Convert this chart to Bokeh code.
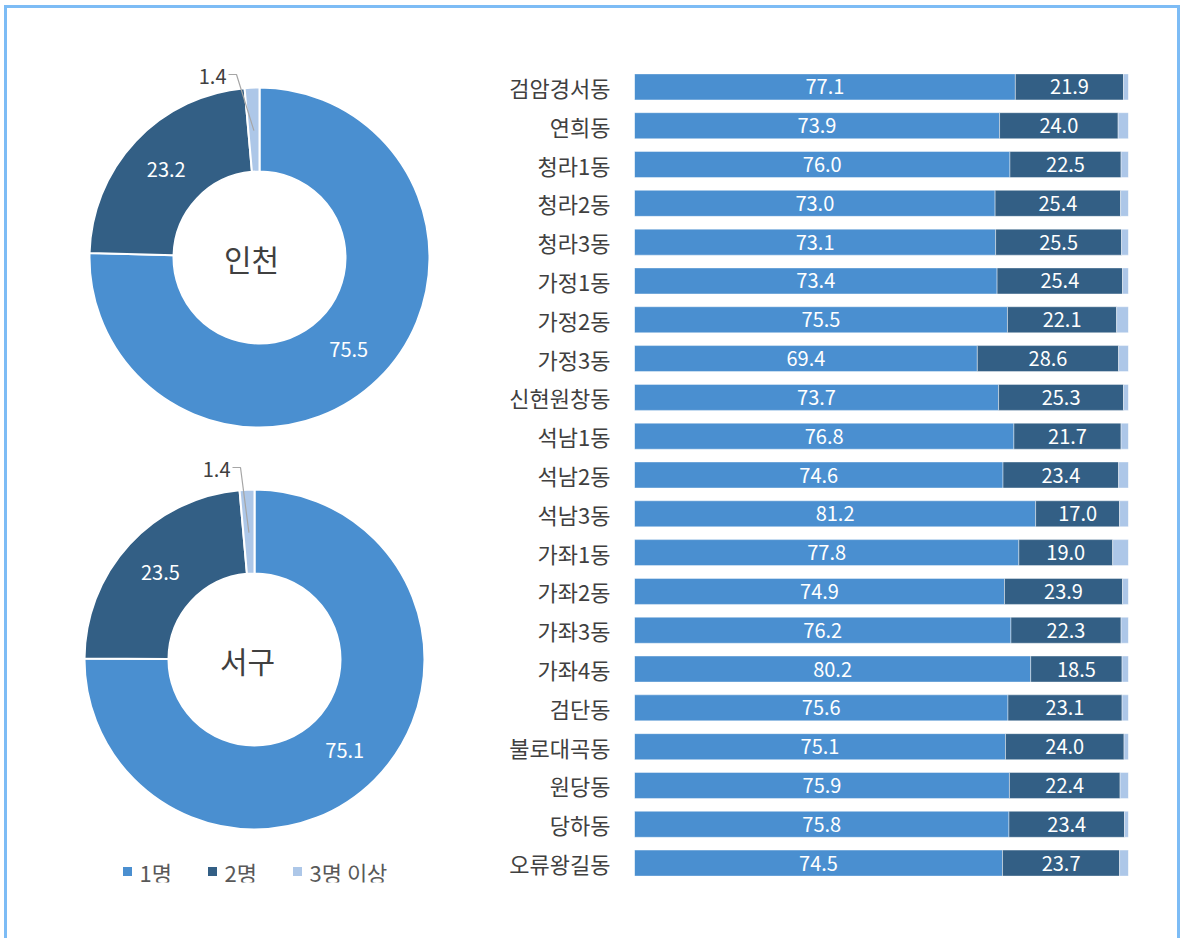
import numpy as np
from bokeh.plotting import figure
from bokeh.layouts import row
from bokeh.models import Range1d, FactorRange, ColumnDataSource
from bokeh.core.properties import value
from bokeh.embed import file_html
from bokeh.resources import INLINE

# ---- data ----
series = ["1명", "2명", "3명 이상"]
donut_names = ["인천", "서구"]
incheon = [75.5, 23.2, 1.4]
seogu = [75.1, 23.5, 1.4]

dongs = ["검암경서동", "연희동", "청라1동", "청라2동", "청라3동", "가정1동", "가정2동", "가정3동",
         "신현원창동", "석남1동", "석남2동", "석남3동", "가좌1동", "가좌2동", "가좌3동", "가좌4동",
         "검단동", "불로대곡동", "원당동", "당하동", "오류왕길동"]
one = [77.1, 73.9, 76.0, 73.0, 73.1, 73.4, 75.5, 69.4, 73.7, 76.8, 74.6, 81.2, 77.8, 74.9,
       76.2, 80.2, 75.6, 75.1, 75.9, 75.8, 74.5]
two = [21.9, 24.0, 22.5, 25.4, 25.5, 25.4, 22.1, 28.6, 25.3, 21.7, 23.4, 17.0, 19.0, 23.9,
       22.3, 18.5, 23.1, 24.0, 22.4, 23.4, 23.7]
three = [1.0, 2.1, 1.5, 1.6, 1.4, 1.2, 2.4, 2.0, 1.0, 1.5, 2.0, 1.8, 3.2, 1.2, 1.5, 1.3,
         1.3, 0.9, 1.7, 0.8, 1.8]

# ---- styles ----
COLORS = ["#4a8fd0", "#335f85", "#adc7e8"]
FONT = value("Noto Sans CJK KR")
BORDER = "3px solid #7dbcf5"

X0, Y0 = 7, 8            # page position of the content area
BT, FH, BB = 59, 815, 56  # top border, frame height, bottom border
W1 = 474

# ---- left: donuts ----
p1 = figure(frame_width=W1, frame_height=FH, output_backend="svg", toolbar_location=None,
            x_range=Range1d(X0, X0 + W1),
            y_range=Range1d(-(Y0 + BT + FH), -(Y0 + BT)),
            min_border_left=0, min_border_right=0, min_border_top=BT,
            min_border_bottom=BB)
p1.axis.visible = False
p1.grid.visible = False
p1.outline_line_color = None

donut_specs = [(incheon, 259, -257, (-23, 183), -8), (seogu, 254, -659, (-14, 192), -7)]
R_OUT, R_IN = 170, 86
for (vals, cx, cy, (edx, edy), tdx), name in zip(donut_specs, donut_names):
    v = np.array(vals, dtype=float)
    frac = v / v.sum()
    cum = np.concatenate([[0], np.cumsum(frac)])
    starts = np.pi / 2 - 2 * np.pi * cum[:-1]
    ends = np.pi / 2 - 2 * np.pi * cum[1:]
    src = ColumnDataSource(dict(s=starts, e=ends, c=COLORS))
    p1.annular_wedge(x=cx, y=cy, inner_radius=R_IN, outer_radius=R_OUT,
                     start_angle="s", end_angle="e", direction="clock",
                     fill_color="c", line_color="white", line_width=2, source=src)
    mids = (starts + ends) / 2
    rm = (R_IN + R_OUT) / 2
    lx = cx + rm * np.cos(mids[:2])
    ly = cy + rm * np.sin(mids[:2])
    p1.text(x=lx, y=ly, text=["%.1f" % x for x in vals[:2]], text_color="white",
            text_font=FONT, text_font_size="20px", text_align="center",
            text_baseline="middle")
    ax = cx + (rm - 1) * np.cos(mids[2])
    ay = cy + (rm - 1) * np.sin(mids[2])
    ex, ey = cx + edx, cy + edy
    p1.line(x=[ax, ex, ex - 8], y=[ay, ey, ey], line_color="#a6a6a6", line_width=1.2)
    p1.text(x=[ex - 10], y=[ey - 2], text=["%.1f" % vals[2]], text_color="#404040",
            text_font=FONT, text_font_size="20px", text_align="right",
            text_baseline="middle")
    p1.text(x=[cx + tdx], y=[cy], text=[name], text_color="#404040", text_font=FONT,
            text_font_size="30px", text_align="center", text_baseline="middle")

# legend
leg_x = np.array([127, 212, 297])
leg_y = -871
p1.scatter(x=leg_x, y=leg_y, marker="square", size=9, fill_color=COLORS,
           line_color=None)
p1.text(x=leg_x + 12, y=leg_y, text=series, text_color="#595959", text_font=FONT,
        text_font_size="22px", text_align="left", text_baseline="middle")

# ---- right: stacked bars ----
src = ColumnDataSource(dict(dong=dongs, a=one, b=two, c=three))
p2 = figure(frame_width=494, frame_height=FH, output_backend="svg",
            toolbar_location=None, y_range=FactorRange(factors=dongs[::-1]),
            x_range=Range1d(0, 100), min_border_left=153, min_border_right=49,
            min_border_top=BT, min_border_bottom=BB)
p2.hbar_stack(["a", "b", "c"], y="dong", height=0.67, color=COLORS,
              line_color="white", line_width=0.6, line_alpha=0.7, source=src)
p2.xaxis.visible = False
p2.grid.visible = False
p2.outline_line_color = None
p2.yaxis.axis_line_color = None
p2.yaxis.major_tick_line_color = None
p2.yaxis.minor_tick_line_color = None
p2.yaxis.major_label_text_font = "Noto Sans CJK KR"
p2.yaxis.major_label_text_font_size = "22px"
p2.yaxis.major_label_text_color = "#404040"
p2.yaxis.major_label_standoff = 18

a = np.array(one)
b = np.array(two)
lab = ColumnDataSource(dict(
    x=np.concatenate([a / 2, a + b / 2]),
    y=dongs + dongs,
    t=["%.1f" % v for v in one] + ["%.1f" % v for v in two]))
p2.text(x="x", y="y", text="t", text_color="white", text_font=FONT,
        text_font_size="20px", text_align="center", text_baseline="middle", source=lab)

layout = row(p1, p2, styles={"border-top": BORDER, "border-left": BORDER,
                             "border-right": BORDER, "margin-left": "4px",
                             "margin-top": "5px"})

open("out.html", "w").write(file_html(layout, INLINE))
